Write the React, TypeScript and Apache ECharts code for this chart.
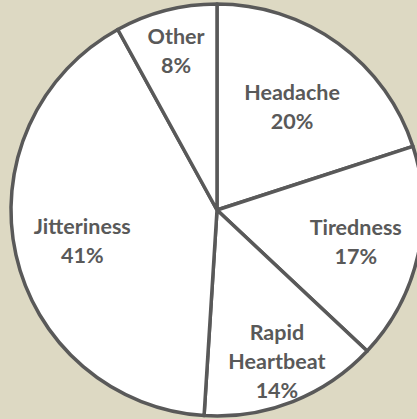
import React, { useEffect, useRef } from "react";
import * as echarts from "echarts";

const categories = ["Headache", "Tiredness", "Rapid Heartbeat", "Jitteriness", "Other"];
const values = [20, 17, 14, 41, 8];
const labelRadiusFrac = [0.62, 0.69, 0.79, 0.67, 0.8];

const W = 417;
const H = 419;
const CX = 217;
const CY = 210;
const R = 206;

export default function App() {
  const ref = useRef<HTMLDivElement>(null);
  useEffect(() => {
    document.body.style.margin = "0";
    const chart = echarts.init(ref.current!, null, { renderer: "svg" });
    const total = values.reduce((a, b) => a + b, 0);
    const midAngles: number[] = [];
    let acc = 0;
    values.forEach((v) => {
      const mid = 90 - ((acc + v / 2) / total) * 360;
      midAngles.push(mid);
      acc += v;
    });
    chart.setOption({
      animation: false,
      backgroundColor: "#DDD9C3",
      series: [
        {
          type: "pie",
          center: [CX, CY],
          radius: [0, R],
          startAngle: 90,
          clockwise: true,
          avoidLabelOverlap: false,
          itemStyle: { color: "#ffffff", borderColor: "#595959", borderWidth: 3.5 },
          emphasis: { disabled: true },
          label: {
            show: true,
            position: "inside",
            formatter: (p: any) => p.name.replace(" ", "\n") + "\n" + p.value + "%",
            fontFamily: "Lato",
            fontWeight: "bold",
            fontSize: 21.5,
            lineHeight: 29,
            color: "#595959",
            align: "center",
          },
          labelLine: { show: false },
          labelLayout: (params: any) => {
            const i = params.dataIndex;
            const a = (midAngles[i] * Math.PI) / 180;
            const r = labelRadiusFrac[i] * R;
            return {
              x: CX + r * Math.cos(a),
              y: CY - r * Math.sin(a),
              align: "center",
              verticalAlign: "middle",
            };
          },
          data: categories.map((c, i) => ({ name: c, value: values[i] })),
        },
      ],
    });
    return () => chart.dispose();
  }, []);
  return <div ref={ref} style={{ width: W, height: H }} />;
}
